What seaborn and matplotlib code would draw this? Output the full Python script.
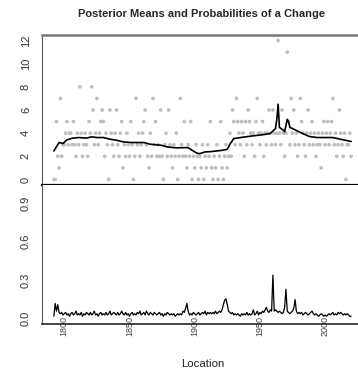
import numpy as np
import pandas as pd
import seaborn as sns
import matplotlib.pyplot as plt

sns.set_style("white")
plt.rcParams["font.family"] = ["Liberation Sans", "DejaVu Sans"]

# yearly counts (grey dots), 1792-2020
counts = [0, 0, 5, 2, 1, 7, 2, 3, 3, 4, 5, 3, 4, 4, 3, 5, 3, 2, 4, 3,
          8, 4, 2, 3, 4, 3, 2, 5, 4, 8, 6, 3, 4, 7, 3, 4, 5, 6, 5, 2,
          4, 3, 0, 6, 4, 3, 2, 4, 6, 3, 2, 4, 5, 1, 3, 2, 4, 3, 2, 5,
          3, 0, 2, 7, 3, 4, 2, 3, 4, 5, 6, 3, 2, 1, 4, 2, 7, 3, 5, 2,
          3, 2, 6, 2, 0, 3, 4, 2, 6, 3, 2, 1, 3, 2, 4, 0, 2, 7, 3, 2,
          5, 2, 1, 3, 2, 5, 0, 2, 1, 3, 2, 0, 2, 1, 3, 0, 2, 1, 3, 2,
          5, 1, 0, 2, 1, 3, 0, 2, 5, 1, 0, 2, 3, 1, 2, 4, 2, 6, 5, 3,
          7, 5, 4, 3, 5, 4, 2, 5, 3, 6, 5, 4, 3, 4, 2, 5, 7, 4, 3, 4,
          5, 2, 4, 3, 4, 6, 4, 3, 6, 4, 3, 4, 12, 4, 3, 6, 4, 2, 4, 11,
          5, 3, 7, 4, 6, 3, 4, 2, 3, 7, 5, 4, 3, 2, 4, 6, 3, 4, 5, 3,
          4, 2, 3, 4, 3, 1, 4, 5, 3, 4, 5, 3, 4, 5, 7, 3, 4, 2, 3, 6,
          4, 3, 2, 4, 0, 3, 3, 4, 2]
years = np.arange(1792, 1792 + len(counts))

# posterior mean (black line, top panel), read at selected years
mean_years = [1792, 1796, 1799, 1802, 1806, 1811, 1817, 1821, 1825, 1830, 1835,
              1840, 1845, 1851, 1861, 1866, 1874, 1879, 1886, 1895, 1898, 1902,
              1904, 1908, 1912, 1920, 1925, 1927, 1930, 1937, 1945, 1952, 1958,
              1962, 1963, 1964, 1965, 1968, 1969, 1971, 1972, 1973, 1977, 1981,
              1988, 1994, 2006, 2014, 2020]
mean_vals = [2.46, 3.19, 3.1, 3.42, 3.56, 3.62, 3.57, 3.68, 3.62, 3.62, 3.48,
             3.39, 3.25, 3.19, 3.19, 3.04, 2.96, 2.81, 2.73, 2.75, 2.52, 2.26,
             2.23, 2.38, 2.4, 2.5, 2.6, 3.04, 3.53, 3.65, 3.77, 3.86, 3.97,
             4.4, 5.2, 6.5, 4.5, 4.26, 4.12, 5.2, 4.98, 4.5, 4.29, 4.06,
             3.71, 3.62, 3.62, 3.42, 3.28]

# posterior probability of a change (bottom panel), 1792-2020
prob = [0.02, 0.12, 0.06, 0.11, 0.05, 0.04, 0.05, 0.03, 0.04, 0.05,
        0.03, 0.04, 0.02, 0.04, 0.05, 0.03, 0.04, 0.06, 0.03, 0.04,
        0.03, 0.05, 0.02, 0.04, 0.03, 0.05, 0.04, 0.03, 0.05, 0.03,
        0.04, 0.06, 0.03, 0.04, 0.02, 0.04, 0.05, 0.03, 0.04, 0.03,
        0.05, 0.03, 0.04, 0.06, 0.03, 0.04, 0.05, 0.04, 0.03, 0.05,
        0.03, 0.04, 0.06, 0.04, 0.03, 0.05, 0.03, 0.04, 0.02, 0.04,
        0.05, 0.03, 0.04, 0.03, 0.05, 0.04, 0.06, 0.03, 0.04, 0.05,
        0.03, 0.06, 0.04, 0.03, 0.05, 0.04, 0.03, 0.05, 0.04, 0.03,
        0.04, 0.05, 0.03, 0.04, 0.02, 0.04, 0.03, 0.05, 0.04, 0.03,
        0.04, 0.03, 0.04, 0.02, 0.03, 0.04, 0.03, 0.04, 0.03, 0.06,
        0.05, 0.08, 0.12, 0.06, 0.03, 0.04, 0.03, 0.05, 0.04, 0.03,
        0.04, 0.05, 0.03, 0.04, 0.05, 0.04, 0.06, 0.03, 0.05, 0.04,
        0.05, 0.04, 0.05, 0.04, 0.06, 0.04, 0.05, 0.06, 0.05, 0.07,
        0.11, 0.145, 0.155, 0.11, 0.06, 0.05, 0.04, 0.05, 0.03, 0.04,
        0.03, 0.04, 0.03, 0.02, 0.04, 0.03, 0.04, 0.03, 0.05, 0.03,
        0.04, 0.03, 0.04, 0.07, 0.03, 0.04, 0.06, 0.03, 0.05, 0.04,
        0.06, 0.05, 0.07, 0.09, 0.06, 0.05, 0.07, 0.06, 0.34, 0.06,
        0.07, 0.06, 0.05, 0.06, 0.05, 0.04, 0.05, 0.09, 0.23, 0.06,
        0.05, 0.04, 0.05, 0.06, 0.08, 0.15, 0.06, 0.04, 0.05, 0.04,
        0.05, 0.03, 0.04, 0.05, 0.04, 0.03, 0.04, 0.05, 0.06, 0.04,
        0.03, 0.04, 0.03, 0.02, 0.03, 0.04, 0.03, 0.02, 0.03, 0.02,
        0.03, 0.04, 0.03, 0.04, 0.05, 0.03, 0.04, 0.03, 0.05, 0.04,
        0.05, 0.04, 0.03, 0.04, 0.03, 0.04, 0.03, 0.02, 0.02]

df = pd.DataFrame({"year": years, "count": counts, "prob": prob})
dm = pd.DataFrame({"year": mean_years, "mean": mean_vals})

fig = plt.figure(figsize=(3.58, 3.75), dpi=100)
ax1 = fig.add_axes([42 / 358, 190 / 375, 321 / 358, 150 / 375])
ax2 = fig.add_axes([42 / 358, 51 / 375, 321 / 358, 139 / 375], sharex=ax1)

sns.scatterplot(data=df, x="year", y="count", ax=ax1, color="#bebebe",
                s=7, edgecolor="none", legend=False)
sns.lineplot(data=dm, x="year", y="mean", ax=ax1, color="black", lw=1.2)
sns.lineplot(data=df, x="year", y="prob", ax=ax2, color="black", lw=0.9)

ax1.set_xlim(1782.9, 2029.1)
ax1.set_ylim(-0.48, 12.48)
ax2.set_ylim(-0.04, 1.04)

for ax in (ax1, ax2):
    ax.set_xlabel("")
    ax.set_ylabel("")
    ax.spines["right"].set_visible(False)
    ax.spines["left"].set_color("#555555")
    ax.tick_params(axis="y", direction="out", length=4, width=0.8,
                   color="#333333", labelsize=8, labelrotation=90, pad=4,
                   labelcolor="#333333")

ax1.set_yticks([0, 2, 4, 6, 8, 10, 12])
ax2.set_yticks([0.0, 0.3, 0.6, 0.9])
ax2.set_yticklabels(["0.0", "0.3", "0.6", "0.9"])
for ax in (ax1, ax2):
    for lab in ax.get_yticklabels():
        lab.set_va("center")
ax1.spines["top"].set_color("#777777")
ax1.spines["top"].set_linewidth(1.8)
ax1.spines["bottom"].set_color("black")
ax1.spines["bottom"].set_linewidth(1.6)
ax1.tick_params(axis="x", which="both", bottom=False, labelbottom=False)
ax2.spines["top"].set_visible(False)
ax2.spines["bottom"].set_linewidth(1.2)

ax2.set_xticks([1800, 1850, 1900, 1950, 2000])
ax2.set_xticklabels(["1800", "1850", "1900", "1950", "2000"], rotation=90,
                    fontsize=6.5, color="#444444")
ax2.set_xticks([1815, 1865, 1915, 1965, 2015], minor=True)
ax2.tick_params(axis="x", which="major", length=0, pad=-6)
ax2.tick_params(axis="x", which="minor", length=5, width=0.9, direction="out",
                color="black")
for lab in ax2.get_xticklabels():
    lab.set_va("top")

fig.text(201 / 358, 1 - 14 / 375, "Posterior Means and Probabilities of a Change",
         ha="center", va="center", fontsize=8, fontweight="bold")
fig.text(203 / 358, 1 - 364 / 375, "Location", ha="center", va="center",
         fontsize=8.2, color="#222222")

fig.savefig("out.png", dpi=100)
